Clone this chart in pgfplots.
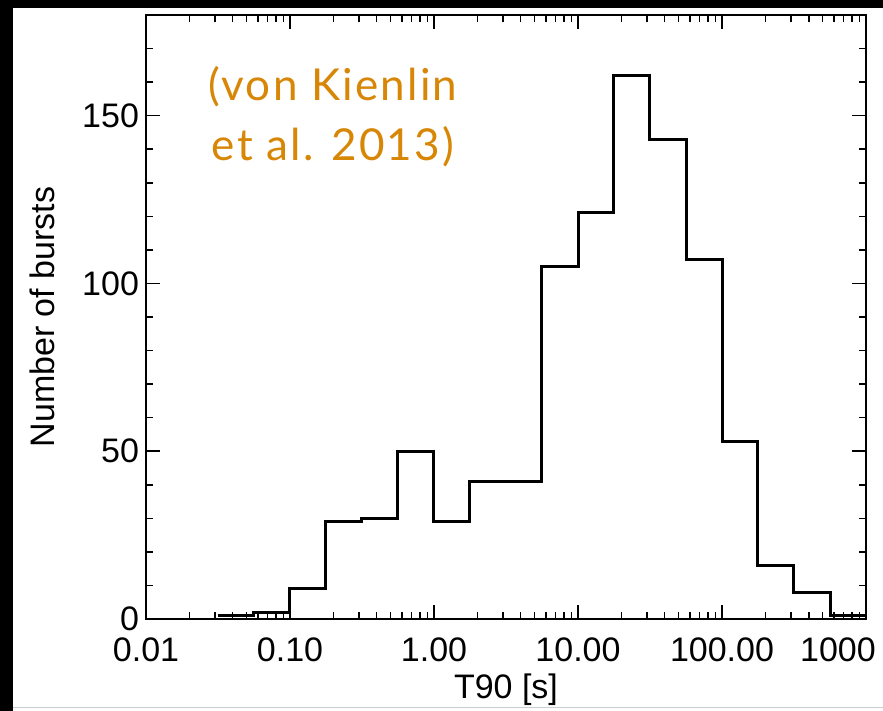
\documentclass[border=0pt]{standalone}
\usepackage{fontspec}
\setmainfont{Liberation Sans}
\newfontfamily\notefont[LetterSpace=5]{Lato}
\usepackage{pgfplots}
\pgfplotsset{compat=1.18}
\definecolor{noteorange}{RGB}{216,134,6}
\begin{document}
\begin{tikzpicture}[x=0.5pt,y=0.5pt]
\fill[black] (0,0) rectangle (883,711);
\fill[white] (13,0) rectangle (883,703);
\draw[gray!40, line width=0.5pt] (13,3) -- (883,3);
\begin{axis}[
  at={(73pt,46pt)}, anchor=south west,
  scale only axis, width=360pt, height=302pt,
  xmode=log, xmin=0.01, xmax=1000, ymin=0, ymax=180,
  xtick={0.01,0.1,1,10,100,1000},
  xticklabels={0.01,0.10,1.00,10.00,100.00,\hspace*{-28pt}1000},
  minor xtick={0.02,0.03,0.04,0.05,0.06,0.07,0.08,0.09,
               0.2,0.3,0.4,0.5,0.6,0.7,0.8,0.9,
               2,3,4,5,6,7,8,9,
               20,30,40,50,60,70,80,90,
               200,300,400,500,600,700,800,900},
  ytick={0,50,100,150}, yticklabels={0,50,100,150},
  minor ytick={10,20,30,40,60,70,80,90,110,120,130,140,160,170},
  tick align=inside,
  major tick length=7pt, minor tick length=3.5pt,
  every tick/.style={black, line width=0.8pt},
  axis line style={line width=1pt},
  ticklabel style={font=\fontsize{17}{20}\selectfont},
  xticklabel style={yshift=-6pt},
  label style={font=\fontsize{17}{20}\selectfont},
  xlabel={T90 [s]}, ylabel={Number of bursts},
  xlabel style={at={(axis description cs:0.5,-0.1175)}, anchor=center},
  ylabel style={at={(axis description cs:-0.144,0.5)}, anchor=center},
]
\addplot[black, line width=1.5pt, const plot, mark=none] coordinates {
(0.0316228,1)
(0.0562341,2)
(0.1,9)
(0.177828,29)
(0.316228,30)
(0.562341,50)
(1,29)
(1.778279,41)
(3.162278,41)
(5.623413,105)
(10,121)
(17.78279,162)
(31.62278,143)
(56.23413,107)
(100,53)
(177.8279,16)
(316.2278,8)
(562.3413,1)
(1000,1)
};
\end{axis}
\node[font=\notefont\fontsize{22}{30}\selectfont, text=noteorange, align=center] at (333,594) {(von Kienlin\\ et al. 2013)};
\pgfresetboundingbox
\useasboundingbox (0,0) rectangle (883,711);
\end{tikzpicture}
\end{document}
